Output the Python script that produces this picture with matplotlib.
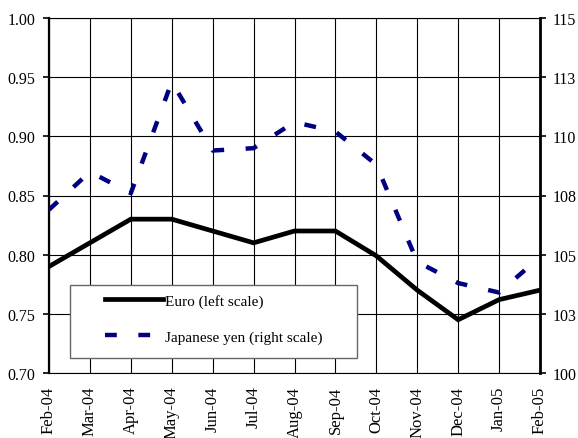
import numpy as np
import matplotlib.pyplot as plt
from matplotlib.patches import Rectangle

plt.rcParams['font.family'] = ['Liberation Serif', 'DejaVu Serif']
plt.rcParams['lines.scale_dashes'] = False

# monthly values
months = ['Feb-04', 'Mar-04', 'Apr-04', 'May-04', 'Jun-04', 'Jul-04', 'Aug-04',
          'Sep-04', 'Oct-04', 'Nov-04', 'Dec-04', 'Jan-05', 'Feb-05']
euro = [0.790, 0.810, 0.830, 0.830, 0.820, 0.810, 0.820,
        0.820, 0.799, 0.770, 0.745, 0.762, 0.770]
yen = [106.9, 108.5, 107.6, 112.3, 109.4, 109.5, 110.6,
       110.2, 108.8, 104.7, 103.8, 103.4, 104.9]

left_ticks = [0.70, 0.75, 0.80, 0.85, 0.90, 0.95, 1.00]
right_ticks = [100, 102.5, 105, 107.5, 110, 112.5, 115]
right_labels = ['100', '103', '105', '108', '110', '113', '115']

W, H = 578, 439
fig = plt.figure(figsize=(W / 100, H / 100), dpi=100)
ax = fig.add_axes([49 / W, 1 - 374 / H, (540 - 49) / W, (374 - 19) / H])
x = np.arange(len(months))

ax.plot(x, euro, color='black', lw=3.4, solid_joinstyle='miter', zorder=3,
        label='Euro (left scale)')
ax.set_xlim(0, len(months) - 1)
ax.set_ylim(0.70, 1.00)
ax.set_yticks(left_ticks)
ax.set_yticklabels(['%.2f' % v for v in left_ticks])
ax.set_xticks(x)
ax.set_xticklabels(months, rotation=90)
ax.grid(True, color='black', lw=0.8)
ax.set_axisbelow(True)
ax.tick_params(axis='x', length=0, pad=9, labelsize=12)
ax.tick_params(axis='y', length=4, width=1.2, pad=6, labelsize=11.5, direction='out')
ax.spines['left'].set_linewidth(1.6)
ax.spines['right'].set_visible(False)
ax.spines['top'].set_linewidth(0.8)
ax.spines['bottom'].set_linewidth(0.8)

ax2 = ax.twinx()
ax2.plot(x, yen, color='#000080', lw=3.2, dashes=(8.5, 15.5), dash_capstyle='butt',
         zorder=3, label='Japanese yen (right scale)')
ax2.set_ylim(100, 115)
ax2.set_yticks(right_ticks)
ax2.set_yticklabels(right_labels)
ax2.tick_params(axis='y', length=4, width=1.2, pad=5, labelsize=11.5, direction='out')
ax2.spines['right'].set_linewidth(2.0)
for s in ['left', 'top', 'bottom']:
    ax2.spines[s].set_visible(False)

# legend box
box = Rectangle((70 / W, 1 - 359 / H), (357 - 70) / W, (359 - 286) / H,
                transform=fig.transFigure, facecolor='white', edgecolor='#666666',
                lw=1.0, zorder=10)
ax2.add_patch(box)
h1, l1 = ax.get_legend_handles_labels()
h2, l2 = ax2.get_legend_handles_labels()
leg = ax2.legend(h1 + h2, l1 + l2, loc='center left',
                 bbox_to_anchor=(105 / W, 1 - 320 / H), bbox_transform=fig.transFigure,
                 frameon=False, borderpad=0, borderaxespad=0, fontsize=11,
                 handlelength=3.8, handletextpad=0.12, labelspacing=1.45)
leg.set_zorder(11)

fig.savefig('out.png', dpi=100)
